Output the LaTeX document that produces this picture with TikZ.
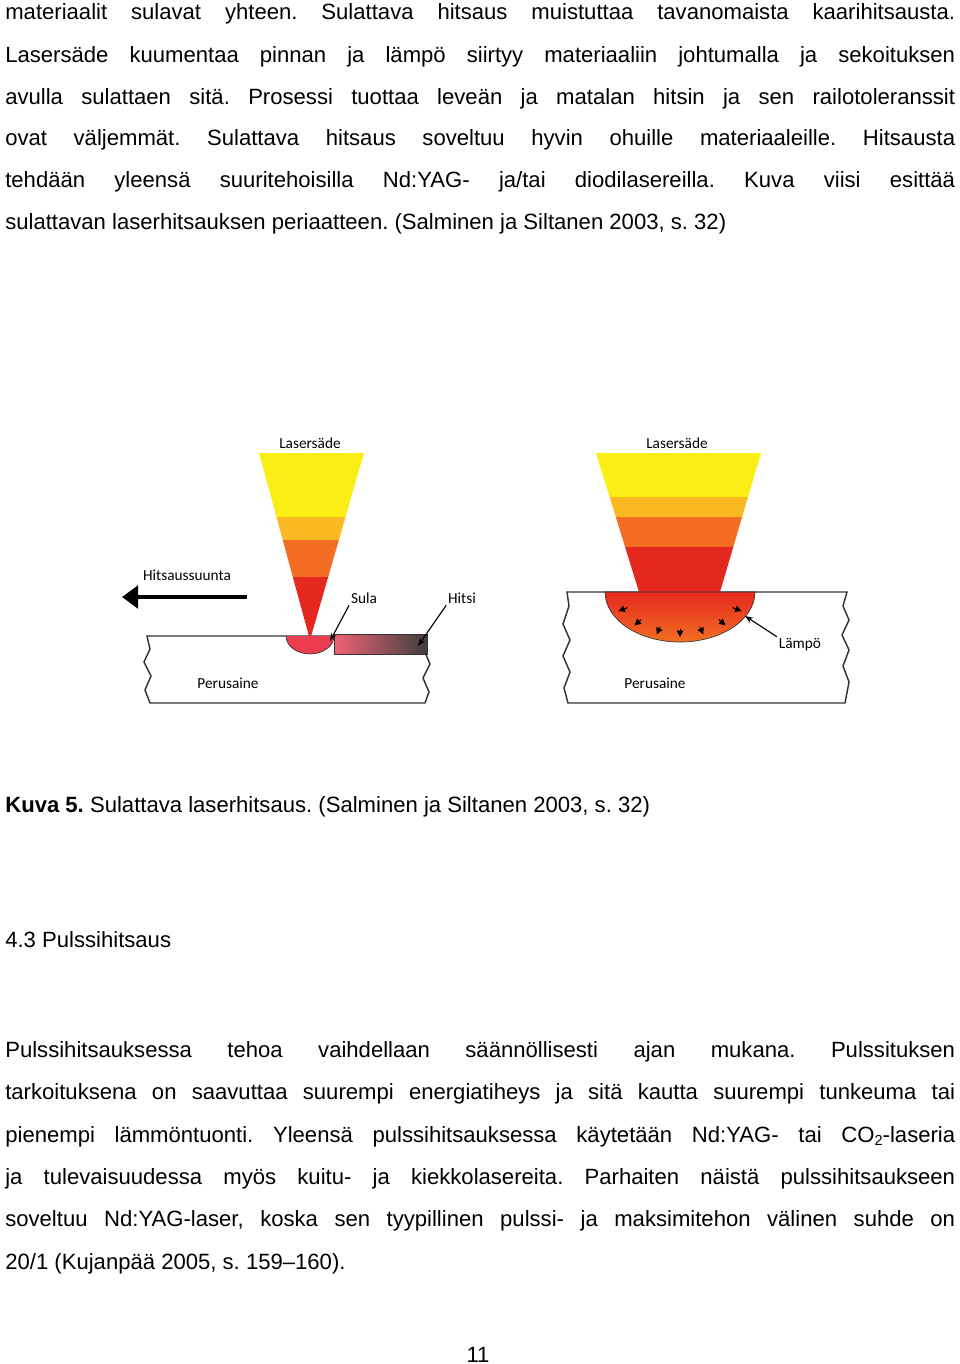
\documentclass[tikz,border=0pt]{standalone}
\usepackage{fontspec}
\setmainfont{Liberation Sans}
\newfontfamily\figfont{Carlito}
\usetikzlibrary{arrows.meta}
\frenchspacing
\newcommand{\jline}[1]{\hbox to 589pt{#1}}
\definecolor{beamyellow}{RGB}{250,238,20}
\definecolor{beamamber}{RGB}{250,185,35}
\definecolor{beamorange}{RGB}{243,110,35}
\definecolor{beamred}{RGB}{228,40,30}
\definecolor{poolpink}{RGB}{235,60,80}
\begin{document}
\begin{tikzpicture}[x=0.6201pt,y=-0.6201pt,
  bodytext/.style={anchor=base west,inner sep=0pt,font=\fontsize{13.7}{16}\selectfont},
  figlabel/.style={inner sep=1pt,font=\figfont\fontsize{9.5}{11}\selectfont},
  plate/.style={draw=black!80,line width=0.9pt,fill=white},
  pointer/.style={-{Stealth[length=5pt]},line width=0.7pt}]
\useasboundingbox (0,0) rectangle (960,1364);
%% text above the figure
\node (t1) at (5,19) [bodytext] {\jline{materiaalit sulavat yhteen. Sulattava hitsaus muistuttaa tavanomaista kaarihitsausta.}};
\node (t2) at (5,62) [bodytext] {\jline{Lasersäde kuumentaa pinnan ja lämpö siirtyy materiaaliin johtumalla ja sekoituksen}};
\node (t3) at (5,104) [bodytext] {\jline{avulla sulattaen sitä. Prosessi tuottaa leveän ja matalan hitsin ja sen railotoleranssit}};
\node (t4) at (5,145) [bodytext] {\jline{ovat väljemmät. Sulattava hitsaus soveltuu hyvin ohuille materiaaleille. Hitsausta}};
\node (t5) at (5,187) [bodytext] {\jline{tehdään yleensä suuritehoisilla Nd:YAG- ja/tai diodilasereilla. Kuva viisi esittää}};
\node (t6) at (5,229) [bodytext] {sulattavan laserhitsauksen periaatteen. (Salminen ja Siltanen 2003, s. 32)};
%% left picture
\draw[plate] (147,636) -- (427,636) -- (424,650) -- (430,664) -- (423,678) -- (429,692) -- (425,703)
  -- (150,703) -- (145,690) -- (151,676) -- (144,662) -- (150,649) -- cycle;
\begin{scope}
\clip (259,453) -- (364,453) -- (310,640) -- cycle;
\fill[beamyellow] (250,453) rectangle (370,517);
\fill[beamamber] (250,517) rectangle (370,540);
\fill[beamorange] (250,540) rectangle (370,577);
\fill[beamred] (250,577) rectangle (370,640);
\end{scope}
\shade[left color=poolpink!80,right color=black!75,draw=black!80] (334,634) rectangle (427,654);
\filldraw[fill=poolpink,draw=black!80] (286,636) arc[start angle=180,end angle=0,x radius=24,y radius=18];
\node (laserL) at (310,443) [figlabel] {Lasersäde};
\node (suunta) at (187,575) [figlabel] {Hitsaussuunta};
\coordinate (suuntaA) at (247,597);
\coordinate (suuntaB) at (122,597);
\draw[line width=3pt,-{Triangle[length=10pt,width=14pt]}] (suuntaA) -- (suuntaB);
\node (sula) at (364,598) [figlabel] {Sula};
\node (hitsi) at (462,598) [figlabel] {Hitsi};
\coordinate (sulaP) at (330,641);
\coordinate (hitsiP) at (418,646);
\draw[pointer] (sula.south west) -- (sulaP);
\draw[pointer] (hitsi.south west) -- (hitsiP);
\node (perusL) at (228,683) [figlabel] {Perusaine};
%% right picture
\draw[plate] (567,592) -- (847,592) -- (843,606) -- (849,620) -- (842,635) -- (849,650) -- (843,666) -- (849,682) -- (845,703)
  -- (568,703) -- (564,688) -- (570,672) -- (563,656) -- (570,640) -- (563,624) -- (569,606) -- cycle;
\begin{scope}
\clip (596,453) -- (761,453) -- (720,592) -- (639,592) -- cycle;
\fill[beamyellow] (590,453) rectangle (770,497);
\fill[beamamber] (590,497) rectangle (770,517);
\fill[beamorange] (590,517) rectangle (770,547);
\fill[beamred] (590,547) rectangle (770,593);
\end{scope}
\shade[top color=beamred,bottom color=beamorange,draw=black!80] (605,592) arc[start angle=180,end angle=0,x radius=75,y radius=50] -- cycle;
\foreach \a in {155,132,110,90,70,48,25}
  \draw[line width=0.6pt,-{Triangle[length=4pt,width=4pt]}]
    ({680+58*cos(\a)},{592+37*sin(\a)}) -- ({680+68*cos(\a)},{592+45*sin(\a)});
\node (laserR) at (677,443) [figlabel] {Lasersäde};
\node (lampo) at (800,645) [figlabel] {Lämpö};
\coordinate (lampoP) at (745,616);
\draw[pointer] (lampo.north west) -- (lampoP);
\node (perusR) at (655,683) [figlabel] {Perusaine};
%% caption and text below
\node (kuva) at (5,812) [bodytext] {\textbf{Kuva 5.} Sulattava laserhitsaus. (Salminen ja Siltanen 2003, s. 32)};
\node (otsikko) at (5,947) [bodytext] {4.3 Pulssihitsaus};
\node (p1) at (5,1057) [bodytext] {\jline{Pulssihitsauksessa tehoa vaihdellaan säännöllisesti ajan mukana. Pulssituksen}};
\node (p2) at (5,1099) [bodytext] {\jline{tarkoituksena on saavuttaa suurempi energiatiheys ja sitä kautta suurempi tunkeuma tai}};
\node (p3) at (5,1142) [bodytext] {\jline{pienempi lämmöntuonti. Yleensä pulssihitsauksessa käytetään Nd:YAG- tai CO\raisebox{-0.3ex}{\fontsize{9}{10}\selectfont 2}-laseria}};
\node (p4) at (5,1184) [bodytext] {\jline{ja tulevaisuudessa myös kuitu- ja kiekkolasereita. Parhaiten näistä pulssihitsaukseen}};
\node (p5) at (5,1226) [bodytext] {\jline{soveltuu Nd:YAG-laser, koska sen tyypillinen pulssi- ja maksimitehon välinen suhde on}};
\node (p6) at (5,1269) [bodytext] {20/1 (Kujanpää 2005, s. 159–160).};
\node (sivu) at (478,1362) [bodytext,anchor=base] {11};
\end{tikzpicture}
\end{document}
